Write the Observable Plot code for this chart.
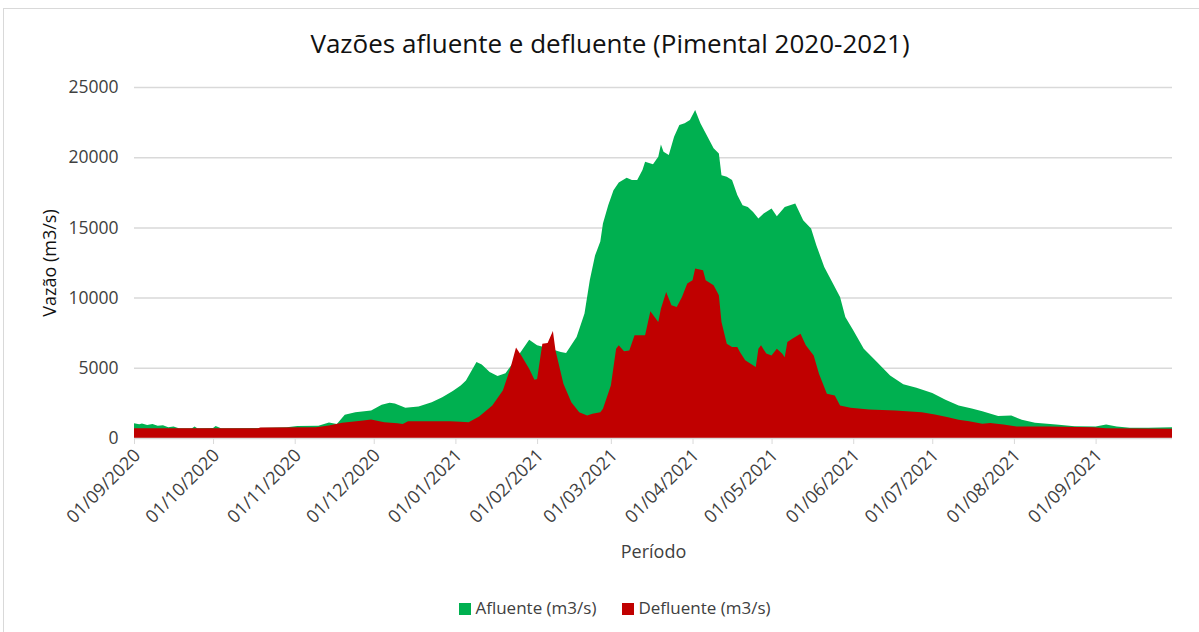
<!DOCTYPE html>
<html>
<head>
<meta charset="utf-8">
<script src="https://cdn.jsdelivr.net/npm/d3@7"></script>
<script src="https://cdn.jsdelivr.net/npm/@observablehq/plot@0.6"></script>
<style>
  html, body { margin: 0; padding: 0; background: #fff; }
  body { width: 1199px; height: 632px; position: relative; overflow: hidden; font-family: "Open Sans", sans-serif; color: #404040; }
  #frame { position: absolute; left: 3px; top: 8px; width: 1300px; height: 700px; border: 1px solid #d9d9d9; }
  #title { position: absolute; left: 0; width: 1220px; top: 25px; text-align: center; font-size: 26px; color: #111; }
  #chart { position: absolute; left: 0; top: 75px; }
  #legend { position: absolute; left: 0; width: 1230px; top: 596px; text-align: center; font-size: 17px; color: #404040; }
  .sw { display: inline-block; width: 12px; height: 12px; margin-right: 4px; vertical-align: -1px; }
  .item { margin: 0 13px; }
</style>
</head>
<body>
<div id="frame"></div>
<div id="title">Vazões afluente e defluente (Pimental 2020-2021)</div>
<div id="chart"></div>
<div id="legend"><span class="item"><span class="sw" style="background:#00B050"></span>Afluente (m3/s)</span><span class="item"><span class="sw" style="background:#C00000"></span>Defluente (m3/s)</span></div>
<script>
const afluenteDates = ["2020-09-01","2020-09-03","2020-09-04","2020-09-06","2020-09-08","2020-09-10","2020-09-12","2020-09-14","2020-09-16","2020-09-18","2020-09-23","2020-09-24","2020-09-25","2020-10-01","2020-10-02","2020-10-04","2020-10-18","2020-10-29","2020-11-02","2020-11-10","2020-11-14","2020-11-17","2020-11-20","2020-11-24","2020-11-30","2020-12-04","2020-12-07","2020-12-09","2020-12-13","2020-12-18","2020-12-23","2020-12-27","2020-12-31","2021-01-03","2021-01-05","2021-01-09","2021-01-11","2021-01-14","2021-01-17","2021-01-20","2021-01-24","2021-01-29","2021-02-01","2021-02-05","2021-02-10","2021-02-12","2021-02-16","2021-02-19","2021-02-21","2021-02-23","2021-02-25","2021-02-26","2021-02-28","2021-03-02","2021-03-04","2021-03-07","2021-03-09","2021-03-11","2021-03-13","2021-03-14","2021-03-17","2021-03-19","2021-03-20","2021-03-21","2021-03-23","2021-03-25","2021-03-27","2021-03-29","2021-03-31","2021-04-02","2021-04-04","2021-04-06","2021-04-09","2021-04-11","2021-04-12","2021-04-14","2021-04-16","2021-04-18","2021-04-20","2021-04-22","2021-04-24","2021-04-26","2021-04-28","2021-05-01","2021-05-03","2021-05-06","2021-05-10","2021-05-13","2021-05-16","2021-05-18","2021-05-21","2021-05-24","2021-05-27","2021-05-29","2021-06-01","2021-06-05","2021-06-10","2021-06-15","2021-06-20","2021-06-25","2021-07-01","2021-07-06","2021-07-11","2021-07-16","2021-07-20","2021-07-26","2021-07-31","2021-08-04","2021-08-09","2021-08-17","2021-08-24","2021-09-01","2021-09-05","2021-09-09","2021-09-14","2021-09-21","2021-09-30"];
const afluenteValues = [1050,980,1040,930,990,880,900,760,820,700,700,820,700,720,850,700,720,760,860,880,1100,1000,1650,1840,1960,2370,2510,2450,2150,2250,2550,2900,3340,3740,4100,5410,5240,4700,4410,4620,5650,7000,6600,6410,6120,6050,7190,8860,11230,13000,14000,15280,16580,17650,18200,18530,18370,18370,19080,19670,19490,20030,20910,20390,20150,21460,22290,22410,22650,23360,22410,21700,20630,20270,18720,18600,18370,17300,16580,16460,16100,15630,15990,16350,15800,16460,16700,15510,14920,13730,12180,11110,10040,8620,7670,6360,5410,4460,3820,3580,3200,2720,2320,2100,1910,1560,1600,1300,1080,960,840,820,960,820,730,730,760];

const defluenteDates = ["2020-09-01","2020-09-17","2020-10-18","2020-10-19","2020-11-09","2020-11-14","2020-11-19","2020-11-27","2020-11-30","2020-12-05","2020-12-10","2020-12-12","2020-12-14","2020-12-30","2021-01-03","2021-01-06","2021-01-10","2021-01-15","2021-01-19","2021-01-22","2021-01-24","2021-01-26","2021-01-29","2021-01-31","2021-02-01","2021-02-03","2021-02-05","2021-02-07","2021-02-08","2021-02-11","2021-02-14","2021-02-17","2021-02-20","2021-02-22","2021-02-25","2021-02-26","2021-03-01","2021-03-03","2021-03-04","2021-03-06","2021-03-08","2021-03-10","2021-03-14","2021-03-16","2021-03-19","2021-03-20","2021-03-22","2021-03-24","2021-03-26","2021-03-28","2021-03-30","2021-04-01","2021-04-02","2021-04-05","2021-04-06","2021-04-09","2021-04-11","2021-04-12","2021-04-14","2021-04-16","2021-04-18","2021-04-19","2021-04-21","2021-04-25","2021-04-26","2021-04-27","2021-04-29","2021-05-01","2021-05-03","2021-05-05","2021-05-06","2021-05-07","2021-05-09","2021-05-12","2021-05-14","2021-05-17","2021-05-19","2021-05-22","2021-05-25","2021-05-27","2021-05-31","2021-06-07","2021-06-17","2021-06-27","2021-07-02","2021-07-07","2021-07-11","2021-07-15","2021-07-20","2021-07-23","2021-07-28","2021-08-02","2021-08-14","2021-08-31","2021-09-05","2021-09-30"];
const defluenteValues = [700,690,690,750,760,890,1080,1250,1320,1130,1050,1000,1190,1190,1150,1130,1530,2320,3390,5050,6450,5880,4940,4150,4200,6720,6760,7620,6240,3870,2550,1840,1600,1720,1840,2080,3740,6360,6600,6170,6240,7310,7310,9020,8260,9210,10400,9450,9330,10040,11000,11230,12070,11950,11230,10880,10160,8260,6720,6480,6480,6120,5530,5050,6360,6600,6010,5880,6360,6010,5760,6830,7080,7430,6600,5880,4580,3150,3030,2320,2150,2030,1960,1840,1680,1480,1300,1200,1010,1060,960,820,820,770,700,660];

const xTickLabels = ["01/09/2020","01/10/2020","01/11/2020","01/12/2020","01/01/2021","01/02/2021","01/03/2021","01/04/2021","01/05/2021","01/06/2021","01/07/2021","01/08/2021","01/09/2021"];
const yTicks = [0,5000,10000,15000,20000,25000];

const parseBR = s => { const [d,m,y] = s.split("/").map(Number); return new Date(Date.UTC(y, m-1, d)); };
const fmtBR = d3.utcFormat("%d/%m/%Y");
const afluente = afluenteDates.map((d,i) => ({date: new Date(d + "T00:00:00Z"), v: afluenteValues[i]}));
const defluente = defluenteDates.map((d,i) => ({date: new Date(d + "T00:00:00Z"), v: defluenteValues[i]}));
const xTicks = xTickLabels.map(parseBR);

const chart = Plot.plot({
  width: 1199,
  height: 500,
  marginLeft: 134,
  marginRight: 27,
  marginTop: 12,
  marginBottom: 137,
  x: {type: "utc", domain: [new Date("2020-09-01T00:00:00Z"), new Date("2021-09-30T00:00:00Z")]},
  y: {domain: [0, 25000]},
  style: {fontFamily: "'Open Sans', sans-serif", fontSize: "16px", color: "#404040", background: "transparent"},
  marks: [
    Plot.gridY(yTicks.filter(d => d > 0), {stroke: "#d9d9d9", strokeOpacity: 1, strokeWidth: 1.5}),
    Plot.areaY(afluente, {x: "date", y1: 0, y2: "v", fill: "#00B050"}),
    Plot.areaY(defluente, {x: "date", y1: 0, y2: "v", fill: "#C00000"}),
    Plot.ruleY([0], {stroke: "#d9d9d9", strokeWidth: 1.5}),
    Plot.axisY({ticks: yTicks, tickSize: 0, tickPadding: 16, tickFormat: d3.format("d"), label: null, fontSize: 17.5}),
    Plot.axisX({ticks: xTicks, tickSize: 6, stroke: "#d9d9d9", strokeOpacity: 1, tickFormat: null, text: null, label: null}),
    Plot.axisX({ticks: xTicks, tickFormat: fmtBR, tickRotate: -45, tickSize: 0, tickPadding: 14, dx: 3, fill: "#404040", label: null, fontSize: 18}),
    Plot.text(["Vazão (m3/s)"], {frameAnchor: "left", dx: -84, rotate: -90, textAnchor: "middle", fontSize: 18, fill: "#111"}),
    Plot.text(["Período"], {frameAnchor: "bottom", dy: 114, textAnchor: "middle", lineAnchor: "middle", fontSize: 18, fill: "#404040"})
  ]
});
document.getElementById("chart").appendChild(chart);
</script>
</body>
</html>
